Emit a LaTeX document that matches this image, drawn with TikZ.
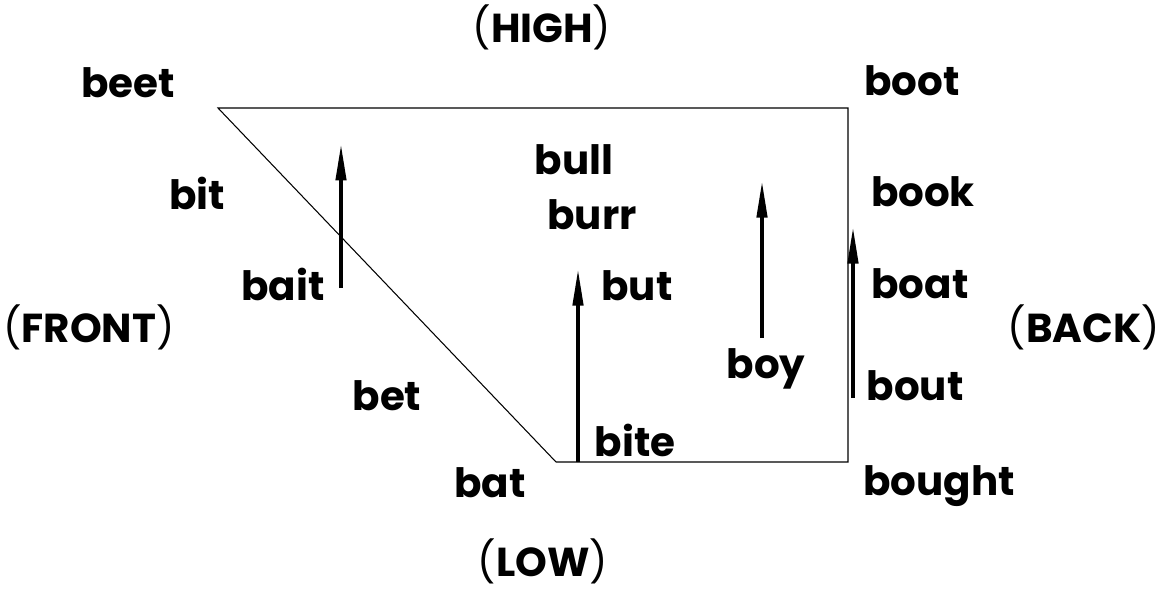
\documentclass[tikz,border=0pt]{standalone}
\usepackage{fontspec}
\setmainfont{Poppins}
\usetikzlibrary{arrows.meta}

\tikzset{
  word/.style={font=\fontsize{23}{26}\selectfont\bfseries, anchor=base, inner sep=0pt},
  rise/.style={line width=2.4pt, -{Triangle[length=0.75cm, width=0.2cm]}}
}
\newcommand{\side}[1]{{\mdseries(}#1{\mdseries)}}

\begin{document}
\begin{tikzpicture}
\useasboundingbox (0,0) rectangle (23.3,-11.84);
% vowel quadrilateral
\coordinate (hiFront) at (4.36,-2.16);
\coordinate (hiBack) at (16.96,-2.16);
\coordinate (loBack) at (16.96,-9.24);
\coordinate (loFront) at (11.12,-9.24);
\draw[line width=0.6pt] (hiFront) -- (hiBack) -- (loBack) -- (loFront) -- cycle;
% diphthong arrows
\coordinate (baitS) at (6.82,-5.76);
\coordinate (baitE) at (6.82,-2.86);
\coordinate (biteS) at (11.56,-9.24);
\coordinate (biteE) at (11.56,-5.36);
\coordinate (boyS) at (15.24,-6.76);
\coordinate (boyE) at (15.24,-3.6);
\coordinate (boutS) at (17.06,-7.96);
\coordinate (boutE) at (17.06,-4.52);
\draw[rise] (baitS) -- (baitE);
\draw[rise] (biteS) -- (biteE);
\draw[rise] (boyS) -- (boyE);
\draw[rise] (boutS) -- (boutE);
% axis labels
\node[word] (high) at (10.84,-0.86) {\side{HIGH}};
\node[word] (low) at (10.86,-11.52) {\side{LOW}};
\node[word] (front) at (1.78,-6.84) {\side{FRONT}};
\node[word] (back) at (21.68,-6.84) {\side{BACK}};
% words
\node[word] (beet) at (2.56,-1.96) {beet};
\node[word] (boot) at (18.24,-1.92) {boot};
\node[word] (bit) at (3.94,-4.2) {bit};
\node[word] (bull) at (11.48,-3.5) {bull};
\node[word] (burr) at (11.84,-4.6) {burr};
\node[word] (book) at (18.46,-4.12) {book};
\node[word] (bait) at (5.66,-6.0) {bait};
\node[word] (but) at (12.74,-6.0) {but};
\node[word] (boat) at (18.4,-5.96) {boat};
\node[word] (boy) at (15.32,-7.56) {boy};
\node[word] (bout) at (18.3,-8.0) {bout};
\node[word] (bet) at (7.74,-8.2) {bet};
\node[word] (bite) at (12.7,-9.12) {bite};
\node[word] (bat) at (9.8,-9.94) {bat};
\node[word] (bought) at (18.78,-9.9) {bought};
\end{tikzpicture}
\end{document}
